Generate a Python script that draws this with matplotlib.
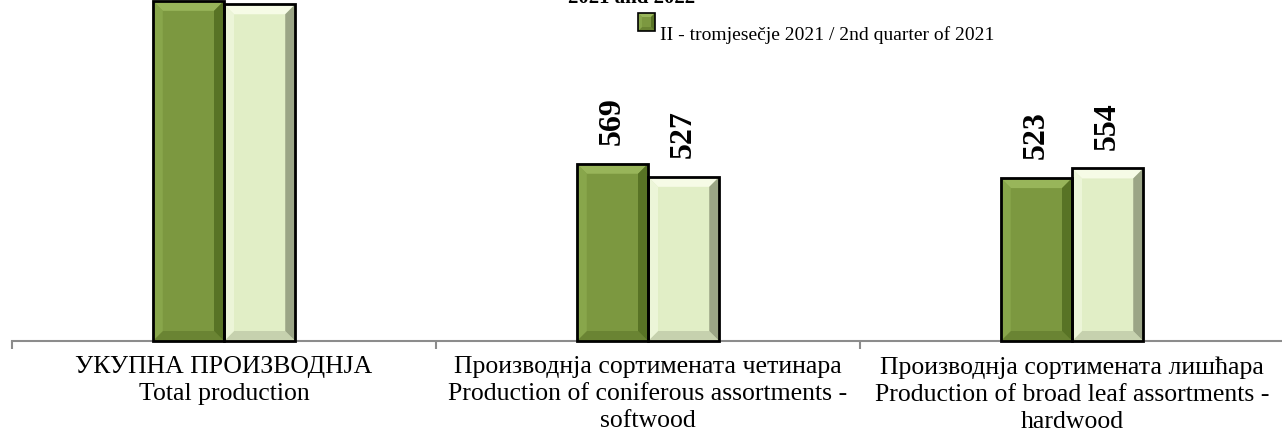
import matplotlib
matplotlib.use("Agg")
import matplotlib.pyplot as plt
from matplotlib.patches import Polygon, Rectangle
from matplotlib.transforms import IdentityTransform
import numpy as np

# ---------------- data ----------------
categories = [
    "УКУПНА ПРОИЗВОДНЈА\nTotal production",
    "Производнја сортимената четинара\nProduction of coniferous assortments -\nsoftwood",
    "Производнја сортимената лишћара\nProduction of broad leaf assortments -\nhardwood",
]
q2_2021 = [1092, 569, 523]
q2_2022 = [1081, 527, 554]
legend_label_2021 = "II - tromjesečje 2021 / 2nd quarter of 2021"
title_fragment = "2021 and 2022"

# ---------------- style ----------------
W, H = 1282, 436
SERIF = ["Liberation Serif", "DejaVu Serif"]
dark = dict(face="#7C9840", top="#98B55A", left="#88A64B", right="#587325", bottom="#6A8433")
light = dict(face="#E1EEC6", top="#F6FBE6", left="#ECF5D8", right="#9BA586", bottom="#C6D1AE")

fig = plt.figure(figsize=(W / 100, H / 100), dpi=100)
base_px = 341          # image y of baseline
scale = 0.3115         # pixels per unit
ymax = 1300
ax_left_px, ax_w_px = 12, 1272
ax = fig.add_axes([ax_left_px / W, (H - base_px) / H, ax_w_px / W, ymax * scale / H])
ax.set_xlim(-0.5, 2.5)
ax.set_ylim(0, ymax)
ax.patch.set_visible(False)
for s in ["top", "left", "right"]:
    ax.spines[s].set_visible(False)
ax.spines["bottom"].set_color("#8C8C8C")
ax.spines["bottom"].set_linewidth(1.5)
ax.spines["bottom"].set_zorder(10)
ax.set_yticks([])
ax.set_xticks([-0.5, 0.5, 1.5, 2.5])
ax.set_xticklabels([])
ax.tick_params(axis="x", direction="out", length=6, width=1.5, color="#8C8C8C")

x = np.arange(len(categories))
bw = 0.168
off = 0.084

bars1 = ax.bar(x - off, q2_2021, bw, color=dark["face"], edgecolor="none", zorder=2)
bars2 = ax.bar(x + off, q2_2022, bw, color=light["face"], edgecolor="none", zorder=2)

ident = IdentityTransform()


def bevel_px(x0, y0, x1, y1, c, b, lw=2.0, z=3, face=False):
    if face:
        fig.add_artist(Rectangle((x0, y0), x1 - x0, y1 - y0, facecolor=c["face"],
                                 edgecolor="none", transform=ident, zorder=z - 0.1))
    polys = [
        ([(x0, y1), (x1, y1), (x1 - b, y1 - b), (x0 + b, y1 - b)], c["top"]),
        ([(x0, y0), (x1, y0), (x1 - b, y0 + b), (x0 + b, y0 + b)], c["bottom"]),
        ([(x0, y0), (x0, y1), (x0 + b, y1 - b), (x0 + b, y0 + b)], c["left"]),
        ([(x1, y0), (x1, y1), (x1 - b, y1 - b), (x1 - b, y0 + b)], c["right"]),
    ]
    for pts, col in polys:
        fig.add_artist(Polygon(pts, closed=True, facecolor=col, edgecolor="none",
                               transform=ident, zorder=z))
    fig.add_artist(Rectangle((x0, y0), x1 - x0, y1 - y0, fill=False, edgecolor="black",
                             linewidth=lw, transform=ident, zorder=z + 0.1))


fig.canvas.draw()
for bars, c in ((bars1, dark), (bars2, light)):
    for r in bars:
        (px0, py0) = ax.transData.transform((r.get_x(), 0))
        (px1, py1) = ax.transData.transform((r.get_x() + r.get_width(), r.get_height()))
        bevel_px(px0, py0, px1, py1, c, b=10)

# value labels (only those that fall inside the cropped picture)
for bars, vals in ((bars1, q2_2021), (bars2, q2_2022)):
    for r, v in zip(bars, vals):
        top_px = ax.transData.transform((0, r.get_height()))[1]
        if top_px + 80 > H:
            continue
        ax.annotate(f"{v}", (r.get_x() + r.get_width() / 2, r.get_height()),
                    xytext=(0, 13.5), textcoords="offset points", rotation=90,
                    ha="center", va="bottom", fontsize=23, fontweight="bold",
                    family=SERIF, color="black", annotation_clip=False)

# category labels
for i, cat in enumerate(categories):
    cx = (ax_left_px + (i + 0.5) * ax_w_px / 3) / W
    fig.text(cx, 1 - 356 / H, cat, ha="center", va="top", fontsize=18.5,
             family=SERIF, linespacing=1.3, color="black")

# legend entry (visible one)
mx0, my0, mx1, my1 = 638, H - 31, 655, H - 13
bevel_px(mx0, my0, mx1, my1, dark, b=4, lw=1.2, z=5, face=True)
fig.text(660 / W, 1 - 40 / H, legend_label_2021, ha="left", va="baseline",
         fontsize=14, family=SERIF, color="black")

# title fragment (cut off at the top, as in the source picture)
fig.text(632 / W, 1 - 3 / H, title_fragment, ha="center", va="baseline",
         fontsize=15, fontweight="bold", family=SERIF, color="black")

fig.savefig("out.png", dpi=100)
